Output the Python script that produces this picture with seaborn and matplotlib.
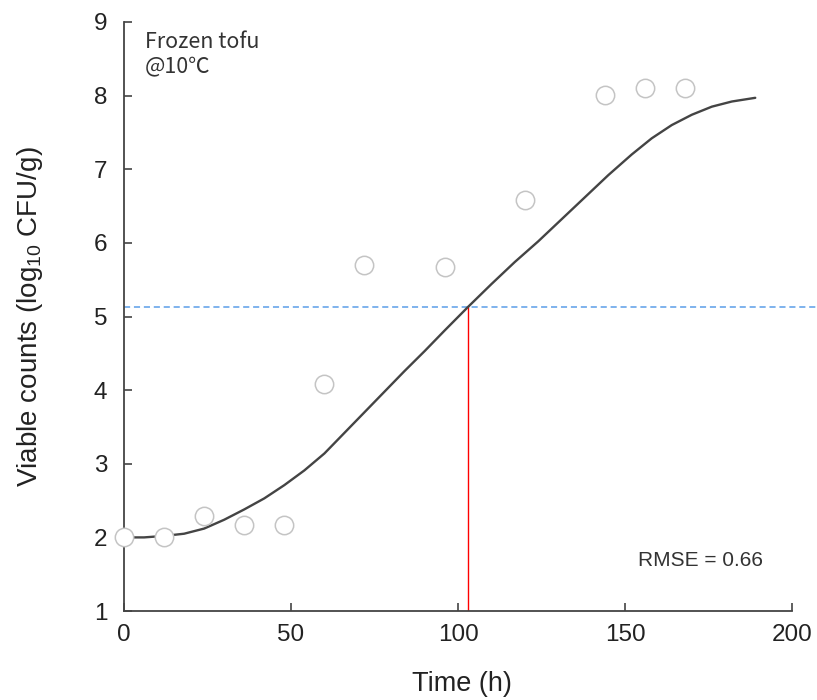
import matplotlib
matplotlib.use("Agg")
import matplotlib.pyplot as plt
import seaborn as sns
import pandas as pd

# observed counts (open circles)
obs_time = [0, 12, 24, 36, 48, 60, 72, 96, 120, 144, 156, 168]
obs_count = [2.00, 2.00, 2.29, 2.17, 2.17, 4.08, 5.70, 5.67, 6.58, 8.01, 8.11, 8.11]

# fitted growth curve
fit_time = [0, 6, 12, 18, 24, 30, 36, 42, 48, 54, 60, 66, 72, 78, 84, 90, 96,
            103, 110, 117, 124, 131, 138, 145, 152, 158, 164, 170, 176, 182, 189]
fit_count = [2.00, 2.00, 2.02, 2.05, 2.12, 2.24, 2.38, 2.53, 2.71, 2.91, 3.14,
             3.42, 3.70, 3.98, 4.26, 4.53, 4.81, 5.13, 5.44, 5.74, 6.02, 6.32,
             6.62, 6.92, 7.20, 7.42, 7.60, 7.74, 7.85, 7.92, 7.97]

# time where the fit reaches the marked level
t_mark = 103.0
y_mark = 5.13

sns.set_theme(style="ticks")
plt.rcParams["font.family"] = ["Liberation Sans", "DejaVu Sans"]
plt.rcParams["mathtext.fontset"] = "custom"
plt.rcParams["mathtext.rm"] = "Liberation Sans"
plt.rcParams["mathtext.default"] = "regular"

obs = pd.DataFrame({"time": obs_time, "count": obs_count})
fit = pd.DataFrame({"time": fit_time, "count": fit_count})

fig = plt.figure(figsize=(8.17, 7.0), dpi=100)
ax = fig.add_axes([0.1518, 0.1271, 0.8176, 0.8415])

sns.lineplot(data=fit, x="time", y="count", ax=ax, color="#444444",
             linewidth=1.7, zorder=3)
sns.scatterplot(data=obs, x="time", y="count", ax=ax, marker="o", s=175,
                facecolor="white", edgecolor="#c4c4c4", linewidth=1.1,
                zorder=4, clip_on=False)

# reference lines
ax.plot([0, 207.5], [y_mark, y_mark], color="#5b9ee8", linewidth=1.1,
        linestyle=(0, (4, 2.5)), clip_on=False, zorder=2)
ax.plot([t_mark, t_mark], [1, y_mark], color="#ff0000", linewidth=1.0, zorder=2)

ax.set_xlim(0, 200)
ax.set_ylim(1, 9)
ax.set_xticks([0, 50, 100, 150, 200])
ax.set_yticks(range(1, 10))

sns.despine(ax=ax)
for side in ["left", "bottom"]:
    ax.spines[side].set_color("#444444")
    ax.spines[side].set_linewidth(1.3)
ax.tick_params(direction="in", length=6, width=1.2, colors="#444444",
               labelcolor="#222222", labelsize=17.5)
ax.tick_params(axis="y", pad=12)
ax.tick_params(axis="x", pad=9)

ax.set_xlabel("Time (h)", fontsize=19.5, color="#222222", va="center")
ax.set_ylabel(r"Viable counts (log$_{10}$ CFU/g)", fontsize=20,
              color="#222222", va="center")
ax.xaxis.set_label_coords(0.506, -0.124)
ax.yaxis.set_label_coords(-0.141, 0.5)

ax.text(6.3, 8.88, "Frozen tofu\n@10℃", ha="left", va="top", fontsize=15.5,
        color="#333333", linespacing=1.2,
        family=["Noto Sans CJK KR", "DejaVu Sans"])
ax.text(154, 1.69, "RMSE = 0.66", ha="left", va="center", fontsize=15,
        color="#333333")

fig.savefig("out.png", dpi=100)
